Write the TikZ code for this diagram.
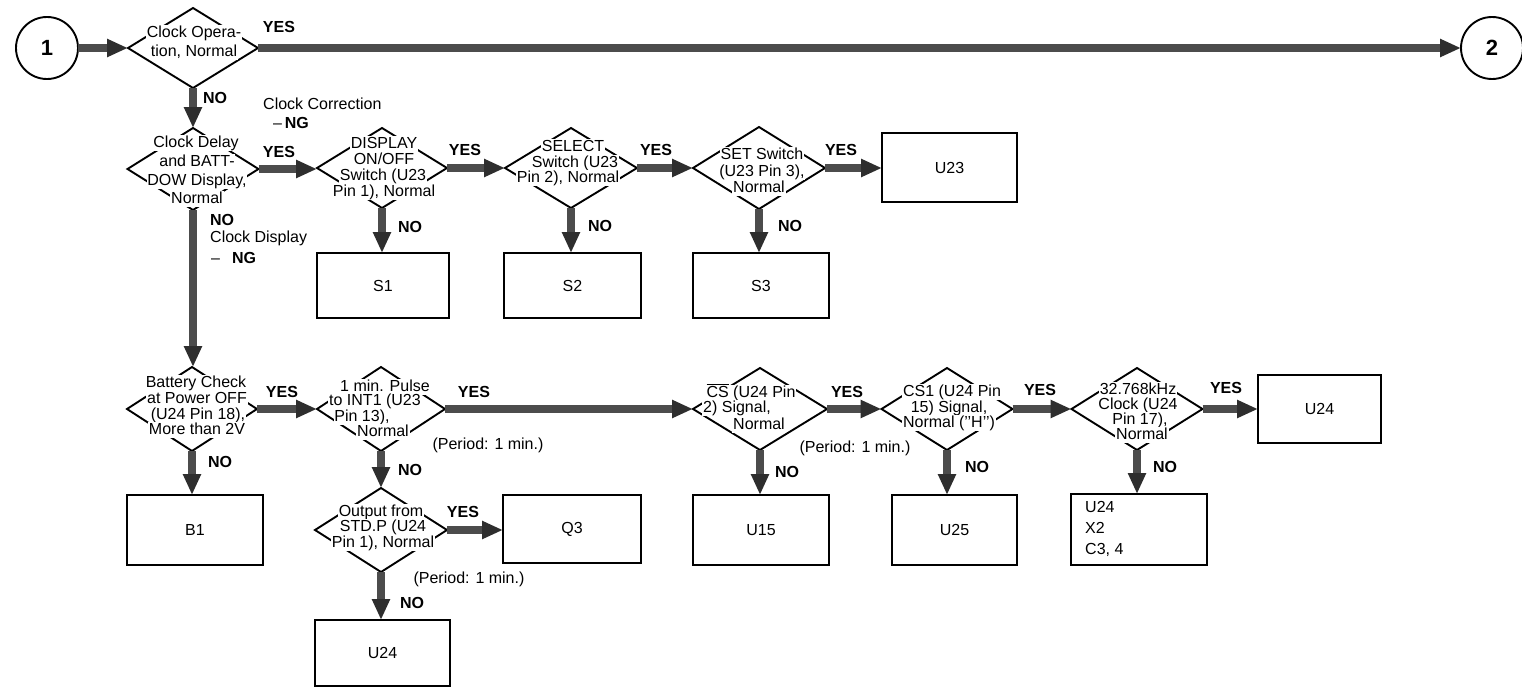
\documentclass[tikz,border=0pt]{standalone}
\usepackage{fontspec}
\setmainfont{Liberation Sans}
\usetikzlibrary{shapes.geometric,arrows.meta}
\newcommand\fsz{\fontsize{16}{17}\selectfont}
\definecolor{shaftc}{gray}{0.3}
\definecolor{headc}{gray}{0.18}
\tikzset{
 dia/.style={draw, line width=1.9pt, shape=diamond, inner sep=0pt, outer sep=0pt},
 dl/.style={fill=white, inner sep=0.8pt, text height=11pt, text depth=3pt, font=\fsz},
 lab/.style={font=\fsz\bfseries, inner sep=0pt},
 txt/.style={font=\fsz, inner sep=0pt},
 box/.style={draw, line width=1.9pt, inner sep=0pt, outer sep=0pt, font=\fsz},
 fl/.style={draw=shaftc, line width=8.5pt, -{Triangle[length=21pt,width=17pt,color=headc]}},
 circ/.style={draw, circle, line width=1.9pt, minimum size=62pt, inner sep=0pt, outer sep=0pt, font=\fontsize{22}{24}\selectfont\bfseries},
}
\begin{document}
\begin{tikzpicture}[x=1pt,y=-1pt]
\fill[white] (0,0) rectangle (1522,688);
\useasboundingbox (0,0) rectangle (1522,688);

% circles
\node[circ] (c1) at (47,48) {1};
\node[circ] (c2) at (1492,48) {2};

% diamonds
\node[dia, minimum width=130pt, minimum height=80pt] (d1) at (193,48) {};
\node[dia, minimum width=131pt, minimum height=82pt] (d2) at (193,169) {};
\node[dia, minimum width=130pt, minimum height=80pt] (d3) at (382,168) {};
\node[dia, minimum width=132pt, minimum height=80pt] (d4) at (571,168) {};
\node[dia, minimum width=132pt, minimum height=82pt] (d5) at (759,168) {};
\node[dia, minimum width=130pt, minimum height=84pt] (d6) at (192,409) {};
\node[dia, minimum width=128pt, minimum height=84pt] (d7) at (381,409) {};
\node[dia, minimum width=132pt, minimum height=84pt] (d8) at (381,530) {};
\node[dia, minimum width=134pt, minimum height=82pt] (d9) at (760,409) {};
\node[dia, minimum width=131pt, minimum height=82pt] (d10) at (947,409) {};
\node[dia, minimum width=131pt, minimum height=82pt] (d11) at (1137,409) {};

% diamond texts
\node[dl] (d1a) at (194,33) {Clock Opera-};
\node[dl] (d1b) at (194,52) {tion, Normal};

\node[dl] (d2a) at (196,143) {Clock Delay};
\node[dl] (d2b) at (197,162) {and BATT-};
\node[dl] (d2c) at (197,181) {DOW Display,};
\node[dl] (d2d) at (197,199) {Normal};

\node[dl] (d3a) at (384,144) {DISPLAY};
\node[dl] (d3b) at (384,160) {ON/OFF};
\node[dl] (d3c) at (383,176) {Switch (U23};
\node[dl] (d3d) at (384,192) {Pin 1), Normal};

\node[dl] (d4a) at (573,147) {SELECT};
\node[dl] (d4b) at (575,163) {Switch (U23};
\node[dl] (d4c) at (568,178) {Pin 2), Normal};

\node[dl] (d5a) at (762,155) {SET Switch};
\node[dl] (d5b) at (762,172) {(U23 Pin 3),};
\node[dl] (d5c) at (759,188) {Normal};

\node[dl] (d6a) at (196,383) {Battery Check};
\node[dl] (d6b) at (197,399) {at Power OFF};
\node[dl] (d6c) at (198,415) {(U24 Pin 18),};
\node[dl] (d6d) at (197,430) {More than 2V};

\node[dl] (d7a) at (385,387) {1 min. Pulse};
\node[dl] (d7b) at (375,401) {to INT1 (U23};
\node[dl] (d7c) at (362,417) {Pin 13),};
\node[dl] (d7d) at (383,432) {Normal};

\node[dl] (d8a) at (381,512) {Output from};
\node[dl] (d8b) at (383,527) {STD.P (U24};
\node[dl] (d8c) at (383,543) {Pin 1), Normal};

\node[dl] (d9a) at (751,393) {$\overline{\mbox{CS}}$ (U24 Pin};
\node[dl] (d9b) at (737,408) {2) Signal,};
\node[dl] (d9c) at (759,425) {Normal};

\node[dl] (d10a) at (952,392) {CS1 (U24 Pin};
\node[dl] (d10b) at (949,408) {15) Signal,};
\node[dl] (d10c) at (949,423) {Normal (’’H’’)};

\node[dl] (d11a) at (1138,390) {32.768kHz};
\node[dl] (d11b) at (1138,405) {Clock (U24};
\node[dl] (d11c) at (1140,420) {Pin 17),};
\node[dl] (d11d) at (1142,435) {Normal};

% boxes
\node[box, minimum width=132pt, minimum height=65pt] (s1) at (383,285.5) {S1};
\node[box, minimum width=137pt, minimum height=65pt] (s2) at (572.5,285.5) {S2};
\node[box, minimum width=136pt, minimum height=65pt] (s3) at (761,285.5) {S3};
\node[box, minimum width=135pt, minimum height=69pt] (u23) at (949.5,167.5) {U23};
\node[box, minimum width=136pt, minimum height=70pt] (b1) at (195,530) {B1};
\node[box, minimum width=138pt, minimum height=68pt] (q3) at (572,529) {Q3};
\node[box, minimum width=136pt, minimum height=70pt] (u15) at (761,530) {U15};
\node[box, minimum width=125pt, minimum height=70pt] (u25) at (954.5,530) {U25};
\node[box, minimum width=136pt, minimum height=71pt] (u24x) at (1139,529.5) {};
\node[txt, align=left, anchor=west, font=\fontsize{16}{21}\selectfont] (u24xt) at (1085,529) {U24\\X2\\C3, 4};
\node[box, minimum width=123pt, minimum height=68pt] (u24r) at (1319.5,409) {U24};
\node[box, minimum width=135pt, minimum height=66pt] (u24b) at (382.5,653) {U24};

% connectors
\draw[fl] (c1.east) -- (c1.east -| d1.west);
\draw[fl] (d1.east) -- (d1.east -| c2.west);
\draw[fl] (d1.south) -- (d1.south |- d2.north);
\draw[fl] (d2.east) -- (d2.east -| d3.west);
\draw[fl] (d3.east) -- (d3.east -| d4.west);
\draw[fl] (d4.east) -- (d4.east -| d5.west);
\draw[fl] (d5.east) -- (d5.east -| u23.west);
\draw[fl] (d3.south) -- (d3.south |- s1.north);
\draw[fl] (d4.south) -- (d4.south |- s2.north);
\draw[fl] (d5.south) -- (d5.south |- s3.north);
\draw[fl] (d2.south) -- (d2.south |- d6.north);
\draw[fl] (d6.east) -- (d6.east -| d7.west);
\draw[fl] (d6.south) -- (d6.south |- b1.north);
\draw[fl] (d7.east) -- (d7.east -| d9.west);
\draw[fl] (d7.south) -- (d7.south |- d8.north);
\draw[fl] (d8.east) -- (d8.east -| q3.west);
\draw[fl] (d8.south) -- (d8.south |- u24b.north);
\draw[fl] (d9.east) -- (d9.east -| d10.west);
\draw[fl] (d9.south) -- (d9.south |- u15.north);
\draw[fl] (d10.east) -- (d10.east -| d11.west);
\draw[fl] (d10.south) -- (d10.south |- u25.north);
\draw[fl] (d11.east) -- (d11.east -| u24r.west);
\draw[fl] (d11.south) -- (d11.south |- u24x.north);

% YES labels
\node[lab] (y1) at (279,27) {YES};
\node[lab] (y2) at (279,152) {YES};
\node[lab] (y3) at (465,150) {YES};
\node[lab] (y4) at (656,150) {YES};
\node[lab] (y5) at (841,150) {YES};
\node[lab] (y6) at (282,392) {YES};
\node[lab] (y7) at (474,392) {YES};
\node[lab] (y8) at (463,512) {YES};
\node[lab] (y9) at (847,392) {YES};
\node[lab] (y10) at (1040,390) {YES};
\node[lab] (y11) at (1226,388) {YES};

% NO labels
\node[lab] (n1) at (215,98) {NO};
\node[lab] (n2) at (222,220) {NO};
\node[lab] (n3) at (410,227) {NO};
\node[lab] (n4) at (600,226) {NO};
\node[lab] (n5) at (790,226) {NO};
\node[lab] (n6) at (220,462) {NO};
\node[lab] (n7) at (410,470) {NO};
\node[lab] (n8) at (412,603) {NO};
\node[lab] (n9) at (787,472) {NO};
\node[lab] (n10) at (977,467) {NO};
\node[lab] (n11) at (1165,467) {NO};

% notes
\node[txt, anchor=west] (cc1) at (263,104) {Clock Correction};
\node[txt, anchor=west] (cc2) at (273,123) {--\,\textbf{NG}};
\node[txt, anchor=west] (cd1) at (210,238) {Clock Display};
\node[txt, anchor=west] (cd2) at (211,258) {--\hspace{12pt}\textbf{NG}};
\node[txt] (p1) at (488,445) {(Period: 1 min.)};
\node[txt] (p2) at (469,579) {(Period: 1 min.)};
\node[txt] (p3) at (855,448) {(Period: 1 min.)};
\end{tikzpicture}
\end{document}
